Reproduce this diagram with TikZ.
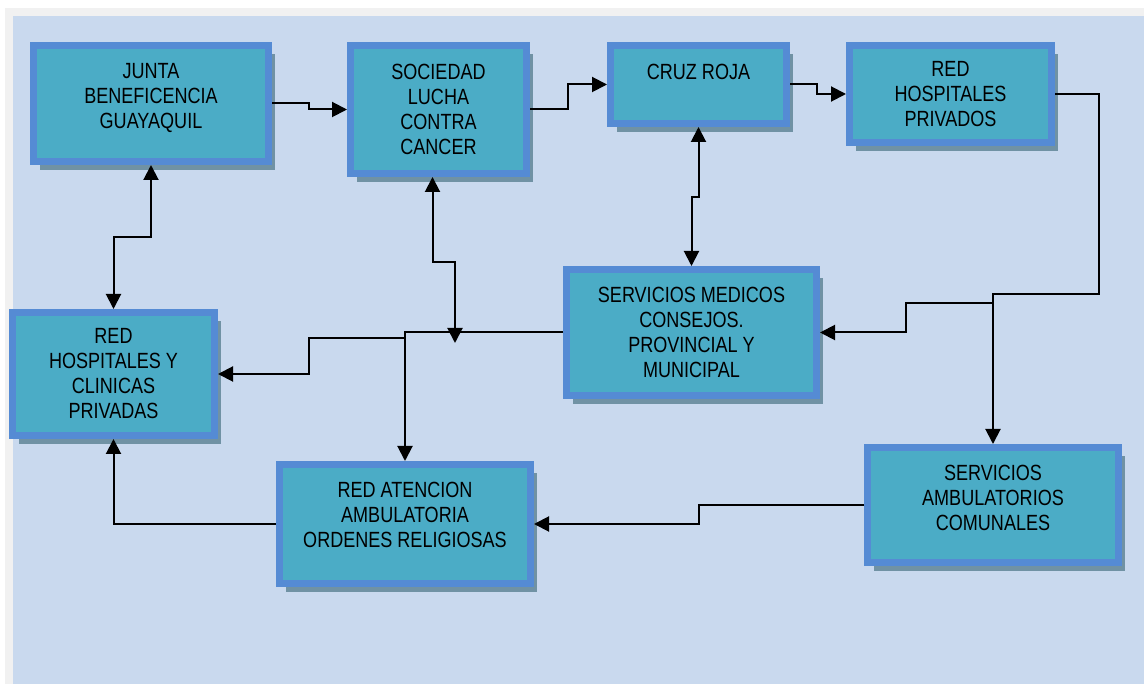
\documentclass[tikz,border=0pt]{standalone}
\usepackage{fontspec}
\setmainfont{Liberation Sans}[FakeStretch=0.82]
\usetikzlibrary{arrows.meta,shadows}

\definecolor{panelblue}{HTML}{C9D9EE}
\definecolor{framegray}{HTML}{F1F1F1}
\definecolor{boxblue}{HTML}{558BD4}
\definecolor{boxteal}{HTML}{4BACC6}
\definecolor{shadowgray}{HTML}{7092A4}

\begin{document}
\begin{tikzpicture}[
  x=1pt, y=-1pt,
  >={Triangle[length=15pt,width=15pt]},
  every node/.style={font=\fontsize{22}{25}\selectfont},
  box/.style={draw=boxblue, line width=7pt, fill=boxteal, align=center, inner sep=2pt,
    drop shadow={shadow xshift=6.5pt, shadow yshift=-8.5pt, fill=shadowgray, opacity=1}},
  link/.style={line width=2pt, black}
]
\useasboundingbox (0,0) rectangle (1144,684);
\fill[white] (0,0) rectangle (1144,684);
\fill[framegray] (5,8) rectangle (1144,684);
\fill[panelblue] (13,16) rectangle (1144,684);

% top row
\node[box, minimum width=235, minimum height=116, text depth=15pt] (junta) at (151,103.5) {JUNTA\\BENEFICENCIA\\GUAYAQUIL};
\node[box, minimum width=176, minimum height=128] (sociedad) at (438.5,109.5) {SOCIEDAD\\LUCHA\\CONTRA\\CANCER};
\node[box, minimum width=176, minimum height=78, text depth=25pt] (cruz) at (698.5,84.5) {CRUZ ROJA};
\node[box, minimum width=202, minimum height=97] (rhp) at (950.5,94) {RED\\HOSPITALES\\PRIVADOS};

% middle and bottom
\node[box, minimum width=250, minimum height=126] (smc) at (691.5,332.5) {SERVICIOS MEDICOS\\CONSEJOS.\\PROVINCIAL Y\\MUNICIPAL};
\node[box, minimum width=202, minimum height=123] (rhc) at (113.5,374) {RED\\HOSPITALES Y\\CLINICAS\\PRIVADAS};
\node[box, minimum width=251, minimum height=119, text depth=18pt] (ra) at (405,524) {RED ATENCION\\AMBULATORIA\\ORDENES RELIGIOSAS};
\node[box, minimum width=251, minimum height=115, text depth=14pt] (sa) at (993,505) {SERVICIOS\\AMBULATORIOS\\COMUNALES};

\coordinate (socend) at (455,343);

% connectors
\draw[link,->] (junta.east) -- ++(37,0) |- (sociedad.west);
\draw[link,->] (sociedad.east) -- ++(38,0) |- (cruz.west);
\draw[link,->] (cruz.east) -- ++(27,0) |- (rhp.west);
\draw[link,<->] (junta.south) -- ++(0,72) -| (rhc.north);
\draw[link,<->] (cruz.south) -- ++(0,70) -| (smc.north);
\draw[link,<->] ([xshift=-6pt]sociedad.south) -- ++(0,85) -| (socend);
\draw[link,->] (smc.west) -| (ra.north);
\draw[link,->] (ra.north |- smc.west) -- ++(0,6) -- ++(-96,0) |- (rhc.east);
\draw[link,->] (rhp.east) -- ++(44,0) -- ++(0,200) -| (sa.north);
\draw[link,->] (sa.north) ++(0,-141) -- ++(-87,0) |- (smc.east);
\draw[link,->] (sa.west) -- ++(-165,0) |- (ra.east);
\draw[link,->] (ra.west) -| (rhc.south);
\end{tikzpicture}
\end{document}
